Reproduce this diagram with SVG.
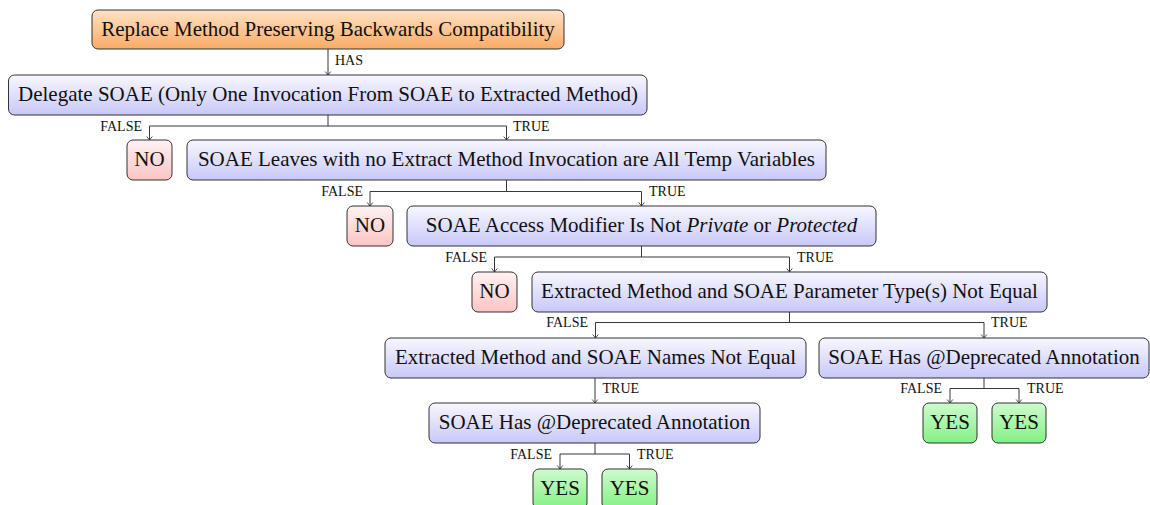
<svg xmlns="http://www.w3.org/2000/svg" width="1150" height="505" viewBox="0 0 1150 505">
<defs>
<linearGradient id="gBlue" x1="0" y1="0" x2="0" y2="1"><stop offset="0" stop-color="#f7f7ff"/><stop offset="1" stop-color="#c8c8f8"/></linearGradient>
<linearGradient id="gOrange" x1="0" y1="0" x2="0" y2="1"><stop offset="0" stop-color="#fee2c4"/><stop offset="1" stop-color="#f9ab66"/></linearGradient>
<linearGradient id="gRed" x1="0" y1="0" x2="0" y2="1"><stop offset="0" stop-color="#fff2f2"/><stop offset="1" stop-color="#fcc4c4"/></linearGradient>
<linearGradient id="gGreen" x1="0" y1="0" x2="0" y2="1"><stop offset="0" stop-color="#cefbce"/><stop offset="1" stop-color="#84f084"/></linearGradient>
<marker id="arr" markerUnits="userSpaceOnUse" markerWidth="10" markerHeight="10" viewBox="-5 -5 10 10" refX="0" refY="0" orient="auto">
<path d="M-3.5,-2.8 L0,0 L-3.5,2.8" fill="none" stroke="#222" stroke-width="0.8"/>
</marker>
</defs>
<style>
.box{stroke:#333;stroke-width:1}
.blue{fill:url(#gBlue)}
.orange{fill:url(#gOrange)}
.red{fill:url(#gRed)}
.green{fill:url(#gGreen)}
.t{font-family:"Liberation Serif","Times New Roman",serif;font-size:21px;fill:#111;text-anchor:middle}
.lbl{font-family:"Liberation Serif","Times New Roman",serif;font-size:14px;fill:#111}
.r{text-anchor:end}
.i{font-style:italic}
.c{fill:none;stroke:#222;stroke-width:0.9;marker-end:url(#arr)}
</style>
<g id="connectors">
<path class="c" d="M328,49 V75"/>
<path class="c" d="M328,115 V126 H149.5 V140"/>
<path class="c" d="M328,126 H506.5 V140"/>
<path class="c" d="M506.5,180 V191.5 H370 V206"/>
<path class="c" d="M506.5,191.5 H641.5 V206"/>
<path class="c" d="M641.5,246 V257 H494.5 V272"/>
<path class="c" d="M641.5,257 H789.5 V272"/>
<path class="c" d="M789.5,312 V322.5 H595.5 V338"/>
<path class="c" d="M789.5,322.5 H984 V338"/>
<path class="c" d="M595,378 V403"/>
<path class="c" d="M595,443 V454 H560 V469"/>
<path class="c" d="M595,454 H629.5 V469"/>
<path class="c" d="M984,378 V388.5 H950 V403"/>
<path class="c" d="M984,388.5 H1019 V403"/>
<text class="lbl" x="335" y="65">HAS</text>
<text class="lbl r" x="142" y="130.5">FALSE</text>
<text class="lbl" x="513" y="130.5">TRUE</text>
<text class="lbl r" x="363" y="196">FALSE</text>
<text class="lbl" x="649" y="196">TRUE</text>
<text class="lbl r" x="487" y="261.5">FALSE</text>
<text class="lbl" x="797" y="261.5">TRUE</text>
<text class="lbl r" x="588" y="327">FALSE</text>
<text class="lbl" x="991" y="327">TRUE</text>
<text class="lbl" x="602.5" y="393">TRUE</text>
<text class="lbl r" x="552" y="458.5">FALSE</text>
<text class="lbl" x="637" y="458.5">TRUE</text>
<text class="lbl r" x="942" y="392.5">FALSE</text>
<text class="lbl" x="1027" y="392.5">TRUE</text>
</g>
<g id="root"><rect class="box orange" x="92" y="10" width="472" height="39" rx="6"/><text class="t" x="328" y="35.5">Replace Method Preserving Backwards Compatibility</text></g>
<g id="delegate"><rect class="box blue" x="8.5" y="75" width="638.5" height="40" rx="6"/><text class="t" x="328" y="101">Delegate SOAE (Only One Invocation From SOAE to Extracted Method)</text></g>
<g id="no1"><rect class="box red" x="127" y="140" width="45" height="40" rx="6"/><text class="t" x="149.5" y="166">NO</text></g>
<g id="leaves"><rect class="box blue" x="187" y="140" width="639" height="40" rx="6"/><text class="t" x="506.5" y="166">SOAE Leaves with no Extract Method Invocation are All Temp Variables</text></g>
<g id="no2"><rect class="box red" x="347" y="206" width="46" height="40" rx="6"/><text class="t" x="370" y="232">NO</text></g>
<g id="access"><rect class="box blue" x="407" y="206" width="469" height="40" rx="6"/><text class="t" x="641.5" y="232">SOAE Access Modifier Is Not <tspan class="i">Private</tspan> or <tspan class="i">Protected</tspan></text></g>
<g id="no3"><rect class="box red" x="472" y="272" width="45" height="40" rx="6"/><text class="t" x="494.5" y="298">NO</text></g>
<g id="param"><rect class="box blue" x="532" y="272" width="515" height="40" rx="6"/><text class="t" x="789.5" y="298">Extracted Method and SOAE Parameter Type(s) Not Equal</text></g>
<g id="names"><rect class="box blue" x="385" y="338" width="421" height="40" rx="6"/><text class="t" x="595.5" y="364">Extracted Method and SOAE Names Not Equal</text></g>
<g id="deprecatedRight"><rect class="box blue" x="819" y="338" width="330" height="40" rx="6"/><text class="t" x="984" y="364">SOAE Has @Deprecated Annotation</text></g>
<g id="deprecatedLeft"><rect class="box blue" x="429" y="403" width="331" height="40" rx="6"/><text class="t" x="594.5" y="429">SOAE Has @Deprecated Annotation</text></g>
<g id="yes1"><rect class="box green" x="533" y="469" width="54" height="40" rx="6"/><text class="t" x="560" y="495">YES</text></g>
<g id="yes2"><rect class="box green" x="602" y="469" width="55" height="40" rx="6"/><text class="t" x="629.5" y="495">YES</text></g>
<g id="yes3"><rect class="box green" x="923" y="403" width="54" height="40" rx="6"/><text class="t" x="950" y="429">YES</text></g>
<g id="yes4"><rect class="box green" x="992" y="403" width="54" height="40" rx="6"/><text class="t" x="1019" y="429">YES</text></g>
</svg>
